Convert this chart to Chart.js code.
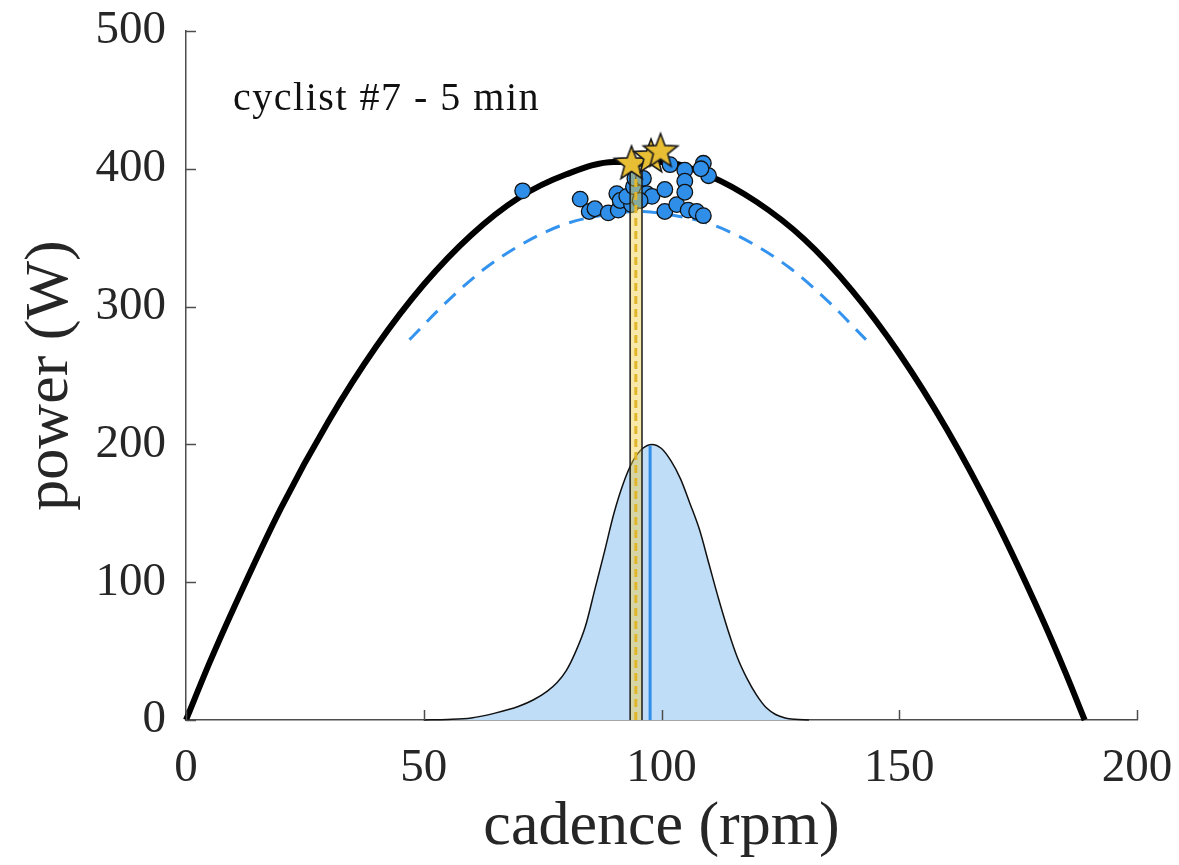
<!DOCTYPE html>
<html>
<head>
<meta charset="utf-8">
<script src="https://cdn.jsdelivr.net/npm/chart.js@4.4.1/dist/chart.umd.min.js"></script>
<style>
  html, body { margin: 0; padding: 0; background: #fff; }
  #wrap { width: 1179px; height: 865px; }
</style>
</head>
<body>
<div id="wrap"><canvas id="powerChart" width="1179" height="865"></canvas></div>
<script>
(function() {
    'use strict';

    // axis ticks
    const xTicks = [0, 50, 100, 150, 200];
    const yTicks = [0, 100, 200, 300, 400, 500];

    // black power-cadence curve
    const curveCadence = [0, 5, 10, 20, 30, 40, 50, 60, 70, 80, 90, 100, 110, 120, 130, 140, 150, 160, 170, 180, 185, 189];
    const curvePower   = [0, 42, 81, 154, 217, 271, 316, 352, 379, 396, 405, 405, 395, 376, 349, 312, 266, 211, 147, 74, 34, 0];

    // blue dashed fit
    const fitCadence = [47, 55, 63, 71, 79, 87, 95, 103, 111, 119, 127, 135, 143];
    const fitPower   = [276, 304, 328, 346, 359, 366, 369, 366, 359, 346, 328, 304, 276];

    // cadence distribution (filled)
    const distCadence = [50, 55, 60, 65, 70, 73, 76, 78, 80, 82, 84, 86, 88, 90, 92, 94, 96, 98, 100, 102, 104, 106, 108, 110, 112, 114, 116, 118, 120, 122, 124, 126, 128, 131];
    const distPower   = [0, 0.4, 1.5, 5, 10, 14.5, 21, 27, 36, 50, 68, 95, 122, 150, 172, 188, 197, 200, 197, 188, 175, 157, 138, 113, 88, 65, 45, 30, 18, 9, 4, 1.5, 0.5, 0];

    // efforts (blue dots)
    const ptCadence = [70.8, 82.9, 84.8, 86.0, 88.8, 90.9, 90.6, 91.3, 93.7, 92.7, 94.1, 94.4, 96.2, 96.9, 98.0, 95.5, 100.7, 101.8, 100.7, 103.2, 104.9, 104.9, 104.9, 105.6, 107.4, 108.8, 108.8, 109.9, 108.3];
    const ptPower   = [384, 378, 369, 371, 368, 370, 382, 377, 374, 380, 387, 393, 393, 382, 380, 377, 385, 403, 369, 374, 399, 391, 383, 370, 369, 366, 404, 395, 400];

    // best efforts (stars)
    const starCadence = [93.7, 97.8, 99.8];
    const starPower   = [405, 410, 414];

    // optimal cadence band + medians
    const bandCadence = [93.4, 93.4, 95.9, 95.9];
    const bandPower   = [0, 402, 402, 0];
    const optCadence = [94.6, 94.6];
    const optPower   = [0, 398];
    const medCadence = [97.6, 97.6];
    const medPower   = [0, 199];

    const annotation = { text: 'cyclist #7 - 5 min', x: 9.9, y: 443 };

    function pairs(xs, ys) {
        return xs.map((x, i) => ({ x: x, y: ys[i] }));
    }

    function makeStar(size) {
        const c = document.createElement('canvas');
        c.width = size; c.height = size;
        const g = c.getContext('2d');
        const cx = size / 2, cy = size / 2 + 2;
        const ro = size / 2 - 2, ri = ro * 0.42;
        g.beginPath();
        for (let i = 0; i < 10; i++) {
            const r = i % 2 === 0 ? ro : ri;
            const a = -Math.PI / 2 + i * Math.PI / 5;
            const px = cx + r * Math.cos(a), py = cy + r * Math.sin(a);
            if (i === 0) g.moveTo(px, py); else g.lineTo(px, py);
        }
        g.closePath();
        g.fillStyle = '#E8BE34';
        g.fill();
        g.lineWidth = 1.6;
        g.strokeStyle = '#1a1a1a';
        g.lineJoin = 'miter';
        g.stroke();
        return c;
    }

    const serif = "'Liberation Serif', 'DejaVu Serif', serif";

    const innerTicks = {
        id: 'innerTicks',
        afterDraw(chart) {
            const ctx = chart.ctx;
            const xs = chart.scales.x, ys = chart.scales.y;
            const area = chart.chartArea;
            ctx.save();
            ctx.strokeStyle = '#4d4d4d';
            ctx.lineWidth = 1.5;
            xTicks.forEach(v => {
                const px = Math.round(xs.getPixelForValue(v)) + 0.5;
                ctx.beginPath();
                ctx.moveTo(px, area.bottom);
                ctx.lineTo(px, area.bottom - 10);
                ctx.stroke();
            });
            yTicks.forEach(v => {
                const py = Math.round(ys.getPixelForValue(v)) + 0.5;
                ctx.beginPath();
                ctx.moveTo(area.left, py);
                ctx.lineTo(area.left + 10, py);
                ctx.stroke();
            });
            ctx.fillStyle = '#111';
            ctx.font = '40px ' + serif;
            ctx.letterSpacing = '1.5px';
            ctx.textAlign = 'left';
            ctx.textBaseline = 'alphabetic';
            ctx.fillText(annotation.text, xs.getPixelForValue(annotation.x), ys.getPixelForValue(annotation.y));
            ctx.restore();
        }
    };

    const ctx = document.getElementById('powerChart');

    new Chart(ctx, {
        type: 'scatter',
        data: {
            datasets: [
                {
                    label: 'best',
                    data: pairs(starCadence, starPower),
                    pointStyle: makeStar(40),
                    pointRadius: 18,
                    order: 1
                },
                {
                    type: 'line',
                    label: 'optimal median',
                    data: pairs(optCadence, optPower),
                    borderColor: '#E2B62A',
                    borderWidth: 3,
                    borderDash: [8, 5],
                    pointRadius: 0,
                    fill: false,
                    order: 2
                },
                {
                    type: 'line',
                    label: 'optimal band',
                    data: pairs(bandCadence, bandPower),
                    borderColor: '#1a1a1a',
                    borderWidth: 1.5,
                    backgroundColor: 'rgba(240, 204, 67, 0.45)',
                    pointRadius: 0,
                    tension: 0,
                    fill: 'origin',
                    order: 3
                },
                {
                    type: 'line',
                    label: 'median cadence',
                    data: pairs(medCadence, medPower),
                    borderColor: '#2F8FE8',
                    borderWidth: 3,
                    pointRadius: 0,
                    fill: false,
                    order: 4
                },
                {
                    type: 'line',
                    label: 'distribution',
                    data: pairs(distCadence, distPower),
                    borderColor: '#111',
                    borderWidth: 1.5,
                    backgroundColor: '#BFDDF7',
                    pointRadius: 0,
                    cubicInterpolationMode: 'monotone',
                    fill: 'origin',
                    order: 5
                },
                {
                    label: 'efforts',
                    data: pairs(ptCadence, ptPower),
                    backgroundColor: '#2F8FE8',
                    borderColor: '#111',
                    borderWidth: 1.3,
                    pointRadius: 7.8,
                    order: 6
                },
                {
                    type: 'line',
                    label: 'fit',
                    data: pairs(fitCadence, fitPower),
                    borderColor: '#3393EE',
                    borderWidth: 3,
                    borderDash: [15, 10],
                    pointRadius: 0,
                    cubicInterpolationMode: 'monotone',
                    fill: false,
                    order: 7
                },
                {
                    type: 'line',
                    label: 'model',
                    data: pairs(curveCadence, curvePower),
                    borderColor: '#000',
                    borderWidth: 6,
                    pointRadius: 0,
                    cubicInterpolationMode: 'monotone',
                    fill: false,
                    order: 8
                }
            ]
        },
        options: {
            responsive: false,
            animation: false,
            clip: false,
            layout: { padding: { top: 31, right: 42, left: 0, bottom: 0 } },
            plugins: {
                legend: { display: false },
                tooltip: { enabled: false }
            },
            scales: {
                x: {
                    type: 'linear',
                    min: 0,
                    max: 200,
                    afterFit: function(scale) {
                        scale.height = 145;
                        scale.paddingLeft = 0;
                        scale.paddingRight = 0;
                    },
                    afterBuildTicks: function(scale) { scale.ticks = xTicks.map(v => ({ value: v })); },
                    grid: { display: false, drawTicks: false },
                    border: { display: true, color: '#4d4d4d', width: 1.5 },
                    ticks: {
                        padding: 20,
                        color: '#262626',
                        font: { family: serif, size: 47 }
                    },
                    title: {
                        display: true,
                        text: 'cadence (rpm)',
                        color: '#262626',
                        font: { family: serif, size: 62, lineHeight: 1 },
                        padding: { top: 0, bottom: 6 }
                    }
                },
                y: {
                    type: 'linear',
                    min: 0,
                    max: 500,
                    afterFit: function(scale) {
                        scale.width = 186;
                        scale.paddingTop = 0;
                        scale.paddingBottom = 0;
                    },
                    afterBuildTicks: function(scale) { scale.ticks = yTicks.map(v => ({ value: v })); },
                    grid: { display: false, drawTicks: false },
                    border: { display: true, color: '#4d4d4d', width: 1.5 },
                    ticks: {
                        padding: 20,
                        color: '#262626',
                        font: { family: serif, size: 47 }
                    },
                    title: {
                        display: true,
                        text: 'power (W)',
                        color: '#262626',
                        font: { family: serif, size: 62, lineHeight: 1 },
                        padding: { top: 20, bottom: 0 }
                    }
                }
            }
        },
        plugins: [innerTicks]
    });
})();
</script>
</body>
</html>
